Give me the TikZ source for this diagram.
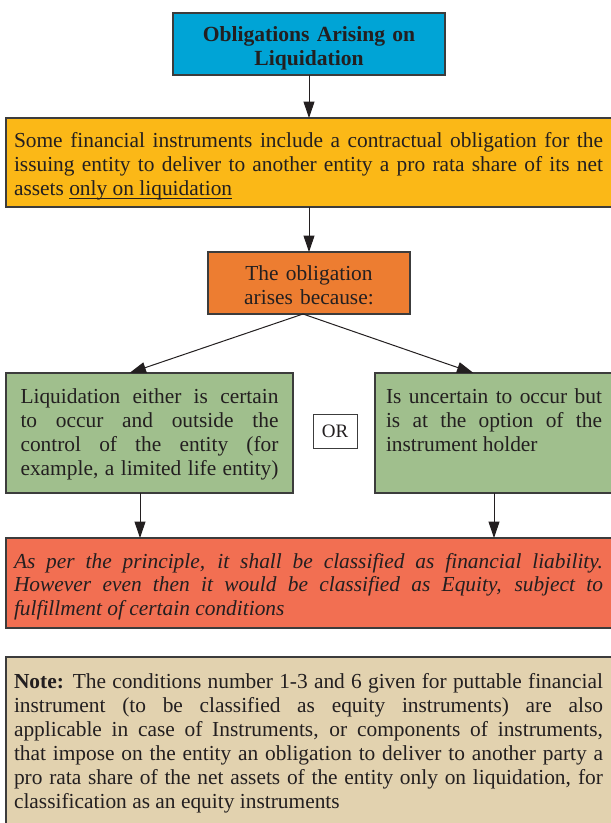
\documentclass[tikz,border=0pt]{standalone}
\usepackage{fontspec}
\setmainfont{Liberation Serif}
\usetikzlibrary{arrows.meta}
\definecolor{cblue}{HTML}{00A4D6}
\definecolor{cyellow}{HTML}{FBB817}
\definecolor{corange}{HTML}{ED7D31}
\definecolor{cgreen}{HTML}{A0BF8D}
\definecolor{cred}{HTML}{F26F52}
\definecolor{cnote}{HTML}{E2D2AF}
\definecolor{cborder}{HTML}{3C3C3C}
\definecolor{ctext}{HTML}{231F20}
\newlength\jw
\newcommand\jl[1]{\hbox to\jw{#1}}
\newcommand\lastline[1]{\hbox to\jw{#1\hfil}}
\newsavebox\ulbox
\newcommand\myul[1]{\sbox\ulbox{#1}\rlap{\rule[-3.4pt]{\wd\ulbox}{0.8pt}}\usebox\ulbox}
\tikzset{
  boxstyle/.style={draw=cborder, line width=1.1pt, inner sep=0pt, outer sep=0pt, text=ctext},
  txt/.style={anchor=base west, inner sep=0pt, outer sep=0pt, text=ctext,
    font=\fontsize{21.4}{24}\selectfont},
  ctxt/.style={anchor=base, inner sep=0pt, outer sep=0pt, text=ctext, align=center},
  arr/.style={draw=ctext, line width=1pt, -{Triangle[length=16.5pt,width=11pt]}}
}
\begin{document}
\begin{tikzpicture}[x=1pt,y=-1pt]
\clip (0,0) rectangle (611,823);
\fill[white] (0,0) rectangle (611,823);
% boxes
\node[boxstyle, fill=cblue, minimum width=272pt, minimum height=62pt] (title) at (309,44) {};
\node[boxstyle, fill=cyellow, minimum width=610pt, minimum height=89pt] (yellow) at (311,162.5) {};
\node[boxstyle, fill=corange, minimum width=202pt, minimum height=62pt] (orange) at (309,283) {};
\node[boxstyle, fill=cgreen, minimum width=287pt, minimum height=120pt] (lg) at (149.5,433) {};
\node[boxstyle, fill=cgreen, minimum width=241pt, minimum height=120pt] (rg) at (495.5,433) {};
\node[boxstyle, fill=white, line width=0.9pt, minimum width=44pt, minimum height=34pt,
  font=\fontsize{19}{22}\selectfont] (orbox) at (335,431) {OR};
\node[boxstyle, fill=cred, minimum width=610pt, minimum height=90pt] (red) at (311,583) {};
\node[boxstyle, fill=cnote, minimum width=610pt, minimum height=180pt] (note) at (311,747) {};
% texts
\node[ctxt, text width=272pt, font=\fontsize{21.6}{23.5}\selectfont\bfseries] (titletext) at (309,41.5)
  {Obligations Arising on\\Liquidation};
\node[ctxt, text width=202pt, font=\fontsize{21.4}{24}\selectfont] (orangetext) at (309,280)
  {The obligation\\arises because:};
\node[txt] (ytext) at (14,147) {\setlength\jw{589pt}\vtop{%
  \jl{Some financial instruments include a contractual obligation for the}%
  \jl{issuing entity to deliver to another entity a pro rata share of its net}%
  \lastline{assets \myul{only on liquidation}}}};
\node[txt] (lgtext) at (20.5,403) {\setlength\jw{258pt}\vtop{%
  \jl{Liquidation either is certain}%
  \jl{to occur and outside the}%
  \jl{control of the entity (for}%
  \jl{example, a limited life entity)}}};
\node[txt] (rgtext) at (386,403) {\setlength\jw{216pt}\vtop{%
  \jl{Is uncertain to occur but}%
  \jl{is at the option of the}%
  \lastline{instrument holder}}};
\node[txt, font=\fontsize{21.4}{23.5}\selectfont\itshape] (rtext) at (14,568) {\setlength\jw{589pt}\vtop{%
  \jl{As per the principle, it shall be classified as financial liability.}%
  \jl{However even then it would be classified as Equity, subject to}%
  \lastline{fulfillment of certain conditions}}};
\node[txt] (ntext) at (14,688) {\setlength\jw{589pt}\vtop{%
  \jl{\textbf{Note:} The conditions number 1-3 and 6 given for puttable financial}%
  \jl{instrument (to be classified as equity instruments) are also}%
  \jl{applicable in case of Instruments, or components of instruments,}%
  \jl{that impose on the entity an obligation to deliver to another party a}%
  \jl{pro rata share of the net assets of the entity only on liquidation, for}%
  \lastline{classification as an equity instruments}}};
% connectors
\coordinate (apex) at ([xshift=-6pt]orange.south);
\draw[arr] (title.south) -- (title.south |- yellow.north);
\draw[arr] (orange.north |- yellow.south) -- (orange.north);
\draw[arr] (apex) -- ([xshift=-20pt]lg.north);
\draw[arr] (apex) -- ([xshift=-22pt]rg.north);
\draw[arr] ([xshift=-9.5pt]lg.south) -- ([xshift=-9.5pt]lg.south |- red.north);
\draw[arr] ([xshift=-1.5pt]rg.south) -- ([xshift=-1.5pt]rg.south |- red.north);
\end{tikzpicture}
\end{document}
